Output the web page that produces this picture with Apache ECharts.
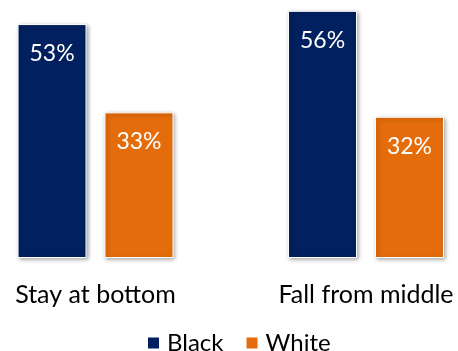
<!DOCTYPE html>
<html><head><meta charset="utf-8">
<script src="https://cdn.jsdelivr.net/npm/echarts@6/dist/echarts.min.js"></script>
<style>html,body{margin:0;padding:0;background:#fff}#c{width:458px;height:351px}</style>
</head><body><div id="c"></div>
<script>
var categories = ['Stay at bottom', 'Fall from middle'];
var seriesNames = ['Black', 'White'];
var blackValues = [53, 56];
var whiteValues = [33, 32];

var FONT = 'Lato';
var chart = echarts.init(document.getElementById('c'), null, {renderer: 'canvas'});
function barStyle(color) {
  return {
    color: color,
    borderColor: '#ffffff',
    borderWidth: 1,
    shadowColor: 'rgba(0,0,0,0.35)',
    shadowBlur: 4,
    shadowOffsetX: 1.5,
    shadowOffsetY: 1.5
  };
}
var labelCfg = {
  show: true,
  position: 'insideTop',
  distance: 18,
  color: '#ffffff',
  fontFamily: FONT,
  fontSize: 23,
  formatter: '{c}%'
};
chart.setOption({
  animation: false,
  grid: {left: -39.75, right: -43.25, top: 2, bottom: 93, containLabel: false, outerBoundsMode: 'none'},
  legend: {
    data: seriesNames,
    left: 146,
    padding: 0,
    top: 331,
    itemWidth: 13,
    itemHeight: 13,
    itemGap: 21,
    icon: 'rect',
    textStyle: {fontFamily: FONT, fontSize: 24, color: '#000000', padding: [0, 0, 0, 2]}
  },
  xAxis: {
    type: 'category',
    data: categories,
    axisLine: {show: false},
    axisTick: {show: false},
    axisLabel: {fontFamily: FONT, fontSize: 25, color: '#000000', margin: 24}
  },
  yAxis: {type: 'value', min: 0, max: 58, show: false, splitLine: {show: false}},
  series: [
    {name: seriesNames[0], type: 'bar', data: blackValues, barWidth: 69, barGap: '26%',
     itemStyle: barStyle('#002060'), label: labelCfg},
    {name: seriesNames[1], type: 'bar', data: whiteValues, barWidth: 69, barGap: '26%',
     itemStyle: barStyle('#E46C0A'), label: labelCfg}
  ]
});
</script></body></html>
